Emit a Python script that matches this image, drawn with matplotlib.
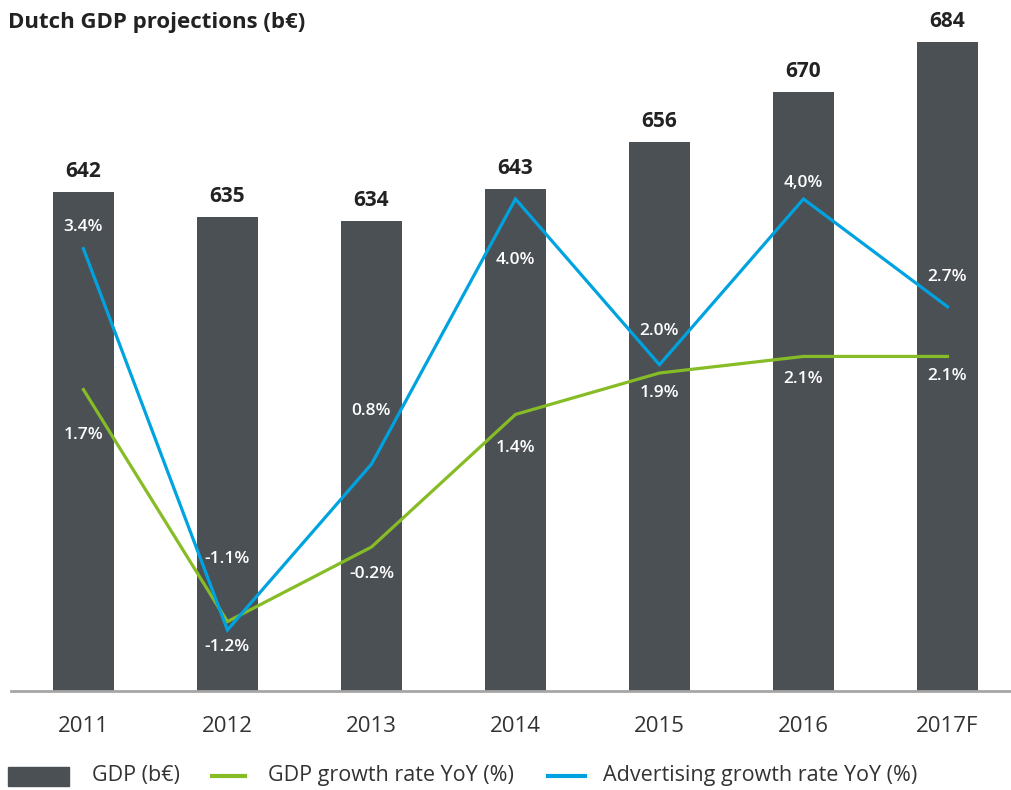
import matplotlib
matplotlib.use("Agg")
import matplotlib.pyplot as plt
from matplotlib.patches import Rectangle
from matplotlib.lines import Line2D

years = ["2011", "2012", "2013", "2014", "2015", "2016", "2017F"]
gdp = [642, 635, 634, 643, 656, 670, 684]
gdp_growth = [1.7, -1.1, -0.2, 1.4, 1.9, 2.1, 2.1]
adv_growth = [3.4, -1.2, 0.8, 4.0, 2.0, 4.0, 2.7]
gdp_growth_labels = ["1.7%", "-1.1%", "-0.2%", "1.4%", "1.9%", "2.1%", "2.1%"]
adv_growth_labels = ["3.4%", "-1.2%", "0.8%", "4.0%", "2.0%", "4,0%", "2.7%"]

# label offsets in pixels (positive = up)
gdp_off = [-45, 63, -27, -34, -20, -23, -20]
adv_off = [22, -17, 53, -61, 34, 16, 30]

BAR = "#4b5055"
GREEN = "#86bc25"
BLUE = "#00a3e0"
TXT = "#333333"
FONT = ["Open Sans", "DejaVu Sans"]

W, H = 1011, 790
fig = plt.figure(figsize=(W / 100, H / 100), dpi=100)
plt.rcParams["font.family"] = FONT

left = 11 / W
bottom = (H - 691) / H
top = (H - 30) / H
ax = fig.add_axes([left, bottom, 1 - left, top - bottom])
ax2 = ax.twinx()

x = list(range(len(years)))
ax.bar(x, gdp, width=0.424, color=BAR, zorder=2)
ax.set_xlim(-0.503, 6.441)
ax.set_ylim(502.3, 687.4)
ax2.set_ylim(-1.937, 6.039)

for xi, v in zip(x, gdp):
    ax.annotate(str(v), (xi, v), xytext=(0, 15 * 0.72), textcoords="offset points",
                ha="center", va="baseline", fontsize=15, fontweight="bold", color="#222222")

ax2.plot(x, gdp_growth, color=GREEN, lw=2.3, zorder=3, solid_joinstyle="miter")
ax2.plot(x, adv_growth, color=BLUE, lw=2.3, zorder=4, solid_joinstyle="miter")

for xi, v, lab, off in zip(x, gdp_growth, gdp_growth_labels, gdp_off):
    ax2.annotate(lab, (xi, v), xytext=(0, off * 0.72), textcoords="offset points",
                 ha="center", va="center", fontsize=12.5, fontweight="semibold", color="white")
for xi, v, lab, off in zip(x, adv_growth, adv_growth_labels, adv_off):
    ax2.annotate(lab, (xi, v), xytext=(0, off * 0.72), textcoords="offset points",
                 ha="center", va="center", fontsize=12.5, fontweight="semibold", color="white")

for a in (ax, ax2):
    for s in a.spines.values():
        s.set_visible(False)
    a.set_yticks([])
ax.spines["bottom"].set_visible(True)
ax.spines["bottom"].set_color("#a6a6a6")
ax.spines["bottom"].set_linewidth(2)
ax.set_xticks(x)
ax.set_xticklabels(years, fontsize=16, color=TXT)
ax.tick_params(axis="x", length=0, pad=18)
ax2.tick_params(axis="x", length=0)

fig.text(8 / W, 1 - 28 / H, "Dutch GDP projections (b€)", fontsize=16,
         fontweight="bold", color="#222222", ha="left", va="baseline")

# legend
ly = 1 - 776 / H
fig.patches.append(Rectangle((8 / W, 1 - 786 / H), 61 / W, 19 / H, color=BAR,
                             transform=fig.transFigure, figure=fig))
fig.text(92 / W, ly, "GDP (b€)", fontsize=15.5, color=TXT, ha="left", va="center")
fig.lines.append(Line2D([212 / W, 245 / W], [ly, ly], color=GREEN, lw=3,
                        transform=fig.transFigure, figure=fig))
fig.text(268 / W, ly, "GDP growth rate YoY (%)", fontsize=15.5, color=TXT, ha="left", va="center")
fig.lines.append(Line2D([548 / W, 585 / W], [ly, ly], color=BLUE, lw=3,
                        transform=fig.transFigure, figure=fig))
fig.text(603 / W, ly, "Advertising growth rate YoY (%)", fontsize=15.5, color=TXT, ha="left", va="center")

fig.savefig("out.png", dpi=100)
